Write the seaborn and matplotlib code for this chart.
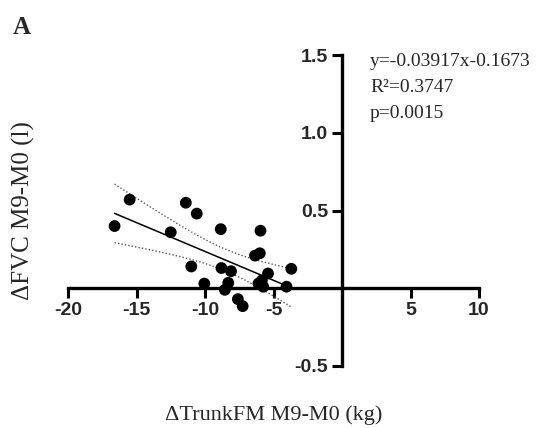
import numpy as np
import pandas as pd
import matplotlib
matplotlib.use("Agg")
import matplotlib.pyplot as plt
import seaborn as sns

# ---- data ----
trunk_fm = [-16.6, -15.5, -12.5, -11.4, -10.6, -11.0, -10.05, -8.85, -8.8, -8.1,
            -8.3, -8.55, -7.6, -7.25, -6.35, -6.0, -5.95, -5.4, -5.85, -5.75,
            -6.1, -4.05, -3.7]
fvc = [0.40, 0.57, 0.36, 0.55, 0.48, 0.14, 0.03, 0.38, 0.13, 0.11,
       0.035, -0.01, -0.07, -0.115, 0.21, 0.225, 0.37, 0.095, 0.05, 0.01,
       0.03, 0.01, 0.125]
x_ticks = [-20, -15, -10, -5, 5, 10]
y_ticks = [-0.5, 0.5, 1.0, 1.5]
stats_lines = ["y=-0.03917x-0.1673", "R\u00b2=0.3747", "p=0.0015"]
panel_label = "A"
x_label = "\u0394TrunkFM M9-M0 (kg)"
y_label = "\u0394FVC M9-M0 (l)"

df = pd.DataFrame({"x": trunk_fm, "y": fvc})

sns.set_style("ticks")
plt.rcParams["font.family"] = ["Liberation Sans", "DejaVu Sans"]

fig = plt.figure(figsize=(5.47, 4.28), dpi=100)
W, H = 547, 428
left, right, top, bottom = 68, 479, 55, 366
ax = fig.add_axes([left / W, 1 - bottom / H, (right - left) / W, (bottom - top) / H])

sns.regplot(data=df, x="x", y="y", ax=ax, ci=None, truncate=True,
            scatter_kws=dict(s=72, color="black", edgecolor="none", alpha=1, zorder=3),
            line_kws=dict(color="black", lw=1.1, zorder=2))

# 95% confidence band of the fitted line (dotted)
xa = np.asarray(trunk_fm)
ya = np.asarray(fvc)
n = len(xa)
b, a = np.polyfit(xa, ya, 1)
resid = ya - (a + b * xa)
s = np.sqrt(np.sum(resid ** 2) / (n - 2))
sxx = np.sum((xa - xa.mean()) ** 2)
xg = np.linspace(xa.min(), xa.max(), 100)
se = s * np.sqrt(1 / n + (xg - xa.mean()) ** 2 / sxx)
tval = 2.08
yfit = a + b * xg
ax.plot(xg, yfit + tval * se, color="#555555", lw=1.0, ls=(0, (1, 1.5)), zorder=2)
ax.plot(xg, yfit - tval * se, color="#555555", lw=1.0, ls=(0, (1, 1.5)), zorder=2)

ax.set_xlim(-20, 10)
ax.set_ylim(-0.5, 1.5)
ax.spines["left"].set_position(("data", 0))
ax.spines["bottom"].set_position(("data", 0))
ax.spines["top"].set_visible(False)
ax.spines["right"].set_visible(False)
for sp in ("left", "bottom"):
    ax.spines[sp].set_linewidth(2.4)
    ax.spines[sp].set_color("black")

ax.set_xticks(x_ticks)
ax.set_xticklabels([f"{v:g}" for v in x_ticks])
ax.set_yticks(y_ticks)
ax.set_yticklabels([f"{v:.1f}" for v in y_ticks])
ax.tick_params(axis="both", direction="out", length=7, width=2.2, color="black",
               labelsize=14, pad=3)
for lab in ax.get_xticklabels() + ax.get_yticklabels():
    lab.set_fontweight("bold")

ax.set_xlabel(x_label, family=["Liberation Serif", "DejaVu Serif"], fontsize=16)
ax.xaxis.set_label_coords(0.5, -0.125)
ax.set_ylabel(y_label, family=["Liberation Serif", "DejaVu Serif"], fontsize=18)
ax.yaxis.set_label_coords(-0.08, 0.50)

fig.text(13 / W, 1 - 28 / H, panel_label, family=["Liberation Serif"], fontsize=18,
         fontweight="bold", va="center", ha="left")
for i, line in enumerate(stats_lines):
    fig.text(370 / W, 1 - (62 + 25.5 * i) / H, line, family=["Liberation Serif"],
             fontsize=14, va="center", ha="left")

fig.savefig("out.png", dpi=100)
